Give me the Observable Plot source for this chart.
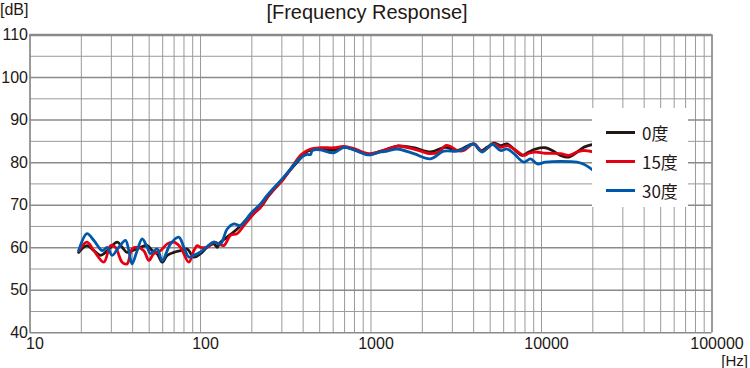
<!DOCTYPE html>
<html><head><meta charset="utf-8">
<script src="https://cdn.jsdelivr.net/npm/d3@7"></script>
<script src="https://cdn.jsdelivr.net/npm/@observablehq/plot@0.6"></script>
<style>
html,body{margin:0;padding:0;background:#fff;}
#wrap{position:relative;width:750px;height:368px;overflow:hidden;}
.lbl{position:absolute;font-family:"Liberation Sans",sans-serif;color:#231815;white-space:nowrap;line-height:1;}
#legend{position:absolute;left:592px;top:108px;width:96px;height:99px;background:#fff;}
.item{position:absolute;left:14px;height:20px;display:flex;align-items:center;font-family:"Noto Sans CJK JP",sans-serif;font-size:17px;color:#231815;}
.sw{width:29px;height:3px;margin-right:7px;}
</style></head><body><div id="wrap"></div>
<script>
// series names and colours
const seriesNames = ["0度", "15度", "30度"];
const seriesColors = ["#231815", "#e60012", "#0058aa"];

// tick labels
const xTicks = [10, 100, 1000, 10000, 100000];
const yTicks = [40, 50, 60, 70, 80, 90, 100, 110];

// 0度
const freq0 = [19.3,21.6,23.7,25.9,28.4,32.5,34.7,37.1,39.7,44.5,48.7,52.1,55.7,59.6,63.8,69.8,76.3,83.5,91.4,100,109.4,119.7,125.2,131,143.4,164.1,187.8,224.8,250,310,386,420,450,505,605,693,793,971,1137,1245,1424,1783,2233,2735,3204,4008,4385,4800,5250,5750,6290,6890,7710,8430,9230,10550,11550,12920,14460,16190,17700,20090];
const db0   = [58.9,60.5,59.3,58.2,59.3,61.3,60.1,58.9,59.3,60.1,60.5,59.3,58.6,56.6,58.2,58.9,59.3,59.7,57.8,58.6,60.1,60.9,60.1,61.3,62.5,64.4,66.8,69.5,72.1,76.6,81.0,82.6,83.0,83.1,82.9,83.6,83.1,81.9,82.7,83.2,83.9,83.5,82.5,83.6,82.85,84.4,82.8,83.6,84.6,84.0,84.4,83.2,81.7,82.5,83.2,83.5,82.85,81.7,81.3,82.5,83.6,84.3];

// 15度
const freq15 = [19.3,21.6,23.7,27.1,29.7,31.7,34.7,37.1,39.7,42.5,46.5,49.8,53.2,58.3,63.8,69.8,76.3,85.4,91.4,95.6,100,109.4,119.7,128.1,137.1,150,164.1,179.6,205.5,224.8,246,308,390,442,505,605,693,793,971,1137,1245,1424,1783,2233,2500,2735,2926,3204,3502,4008,4487,5250,5750,6290,6890,7880,8430,9230,10550,12920,14460,16190,17700,20090];
const db15   = [59.3,61.3,59.3,56.6,60.5,60.1,56.6,56.2,59.7,60.1,59.3,57.0,58.6,59.3,60.9,61.3,60.1,56.6,59.3,60.5,60.1,60.1,61.3,60.9,60.5,62.9,63.3,65.2,68.0,69.5,71.9,76.2,81.9,83.2,83.5,83.5,83.8,83.3,82.1,82.6,83.1,83.9,83.2,82.1,82.5,84.0,83.8,82.85,82.85,84.4,82.7,84.4,83.6,84.0,83.2,81.7,82.2,82.5,82.2,82.1,81.7,82.5,82.85,82.5];

// 30度
const freq30 = [19.3,21.6,23.7,26.5,28.4,30.3,33.2,36.3,38.0,39.7,42.5,45.5,48.7,50.9,55.7,59.6,66.7,74.6,79.9,85.4,91.4,100,119.7,131,143.4,156.9,171.6,196.5,224.8,246,308,386,419,442,452,505,605,693,793,971,1137,1245,1424,1783,2233,2673,3204,3502,4008,4487,5140,5750,6290,6890,7880,8610,9440,10550,12920,16190,17700,20090];
const db30   = [59.3,63.3,61.7,59.3,60.1,58.2,60.1,61.7,59.3,56.2,59.3,62.1,60.1,58.6,59.7,57.0,60.9,62.5,60.1,57.8,58.2,59.0,61.3,60.9,64.4,65.6,65.2,68.0,70.3,72.3,76.6,81.1,81.9,81.9,82.85,83.0,82.3,83.6,83.0,81.8,82.5,82.7,83.2,82.1,80.9,82.7,82.7,83.2,84.4,82.5,84.3,82.85,83.2,82.1,80.1,80.9,79.7,80.1,80.3,80.1,79.6,78.2];

const series = [[freq0, db0], [freq15, db15], [freq30, db30]];
const rows = [];
series.forEach(([fs, ds], i) => fs.forEach((f, j) => rows.push({series: seriesNames[i], f, db: ds[j]})));

const gridX = [];
for (let e = 1; e < 5; e++) for (let m = 1; m < 10; m++) gridX.push(m * 10 ** e);
gridX.push(100000);
const gridMinorY = d3.range(45, 110, 10);
const gridMajorY = yTicks;

const chart = Plot.plot({
  width: 750, height: 368,
  marginLeft: 29.5, marginRight: 38.5, marginTop: 34.5, marginBottom: 35.7,
  style: {fontFamily: "'Liberation Sans', sans-serif", fontSize: "16px", color: "#231815", background: "#fff", overflow: "visible"},
  x: {type: "log", domain: [10, 100000], ticks: xTicks, tickFormat: d => String(d), tickSize: 0, tickPadding: 5, label: null},
  y: {domain: [40, 110], ticks: yTicks, tickSize: 0, tickPadding: 2, label: null},
  color: {domain: seriesNames, range: seriesColors},
  marks: [
    Plot.ruleX(gridX, {stroke: "#9a9a9a", strokeWidth: 1}),
    Plot.ruleY(gridMinorY, {stroke: "#9a9a9a", strokeWidth: 1}),
    Plot.ruleY(gridMajorY, {stroke: "#8a8a8a", strokeWidth: 1.5}),
    Plot.ruleX([10, 100000], {stroke: "#8a8a8a", strokeWidth: 1.5}),
    Plot.ruleY([110], {stroke: "#8a8a8a", strokeWidth: 2.5}),
    Plot.line(rows, {x: "f", y: "db", z: "series", stroke: "series", strokeWidth: 2.8, curve: "catmull-rom"})
  ]
});

const wrap = document.getElementById("wrap");
wrap.appendChild(chart);
// nudge x tick labels to the right like the reference
chart.querySelectorAll("g[aria-label='x-axis tick label'] text").forEach(t => t.setAttribute("dx", "5"));

function label(text, css) {
  const d = document.createElement("div");
  d.className = "lbl";
  d.textContent = text;
  Object.assign(d.style, css);
  wrap.appendChild(d);
}
label("[Frequency Response]", {left: "0", width: "734px", textAlign: "center", top: "2px", fontSize: "20px"});
label("[dB]", {left: "0px", top: "2px", fontSize: "16px"});
label("[Hz]", {right: "2px", top: "353px", fontSize: "15px"});

const legend = document.createElement("div");
legend.id = "legend";
seriesNames.forEach((n, i) => {
  const it = document.createElement("div");
  it.className = "item";
  it.style.top = (14 + i * 29) + "px";
  const sw = document.createElement("div");
  sw.className = "sw";
  sw.style.background = seriesColors[i];
  it.appendChild(sw);
  const t = document.createElement("span");
  t.textContent = n;
  it.appendChild(t);
  legend.appendChild(it);
});
wrap.appendChild(legend);
</script></body></html>
